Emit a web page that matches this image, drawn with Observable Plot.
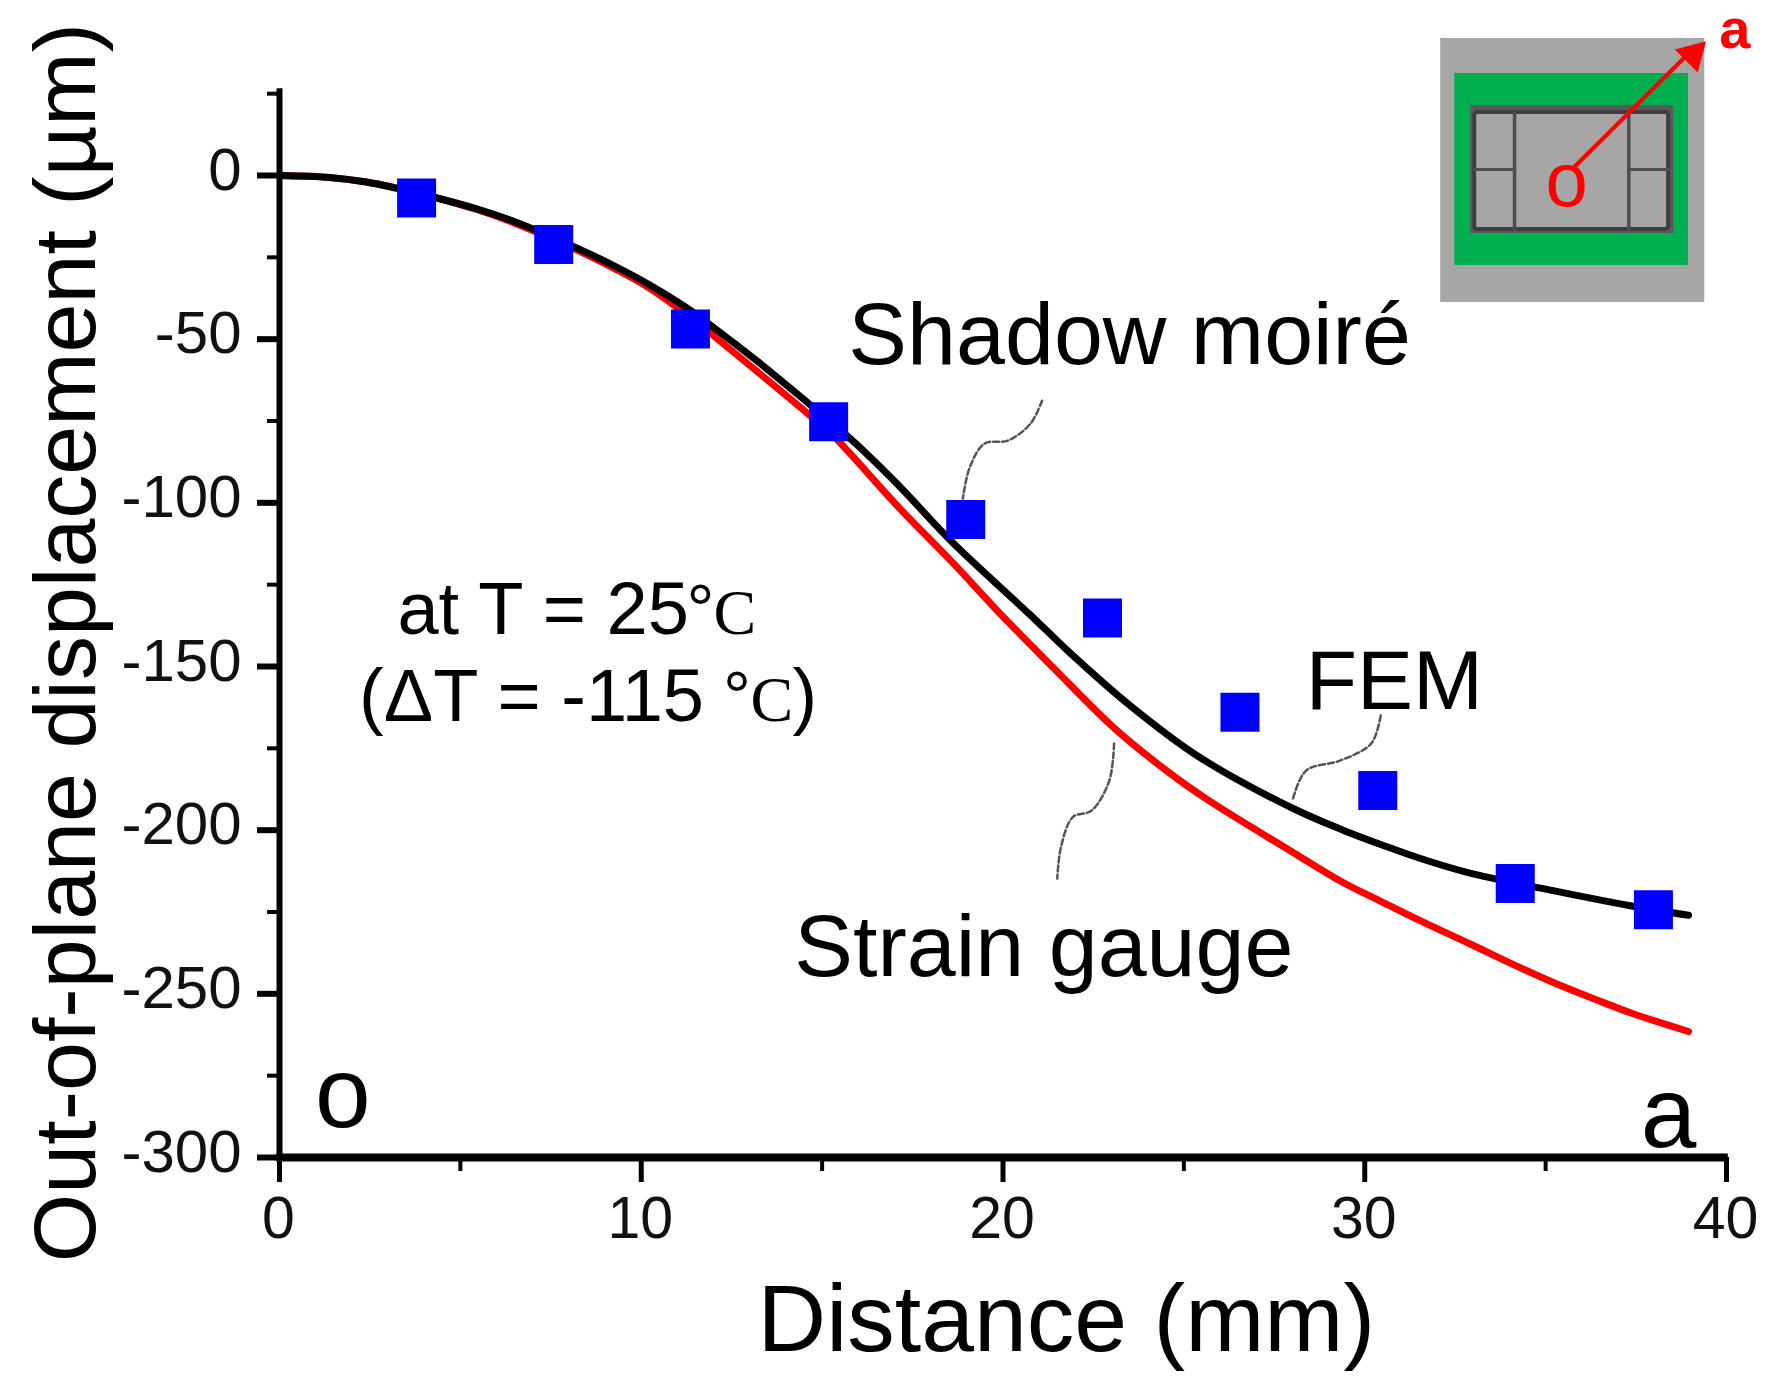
<!DOCTYPE html>
<html>
<head>
<meta charset="utf-8">
<style>
html,body{margin:0;padding:0;background:#fff;}
svg{display:block;}
</style>
<script src="https://cdn.jsdelivr.net/npm/d3@7"></script>
<script src="https://cdn.jsdelivr.net/npm/@observablehq/plot@0.6"></script>
</head>
<body>
<div id="chart"></div>
<script>
// Series values
const femX = [0,1.38,2.4,3.2,4.33,5.45,6.47,8.15,9.29,10.2,11.2,11.89,13.24,14.6,15.84,17.17,18.55,20.76,21.8,23.52,25.4,27.95,29.4,30.6,31.5,32.8,34.9,37.3,38.95];
const femY = [0,-0.6,-2,-3.8,-6.8,-10.2,-14,-21.8,-27.8,-33.2,-40,-45.5,-57,-69.4,-81,-95.3,-111.5,-134.3,-145.3,-162,-177.5,-193,-200,-205,-208.5,-212.8,-217.8,-223,-226];
const gaugeX = [0,1.38,2.4,3.2,4.33,5.45,6.47,8.15,9.29,10.2,11.2,11.89,13.24,14.6,15.26,17.17,18.55,20.02,21.4,23.09,24.6,25.63,27.75,29.4,30.4,31.5,32.9,34.1,35.1,36.4,37.4,38.95];
const gaugeY = [0,-0.6,-2,-3.8,-6.8,-10.4,-14.4,-22.4,-28.6,-34.2,-42,-48,-60.2,-72.7,-79,-102,-117.6,-135,-150.5,-169,-182.5,-190.5,-205,-216,-221.5,-227.5,-234.7,-241,-246,-251.8,-256,-261.5];
const moireX = [3.79,7.58,11.36,15.18,18.97,22.75,26.55,30.36,34.16,37.98];
const moireY = [-6.9,-21.1,-46.9,-75.2,-105.1,-135.2,-164,-187.9,-216.3,-224.3];

// Axis ticks
const xMajor = [0,10,20,30,40];
const xMinor = [5,15,25,35];
const yMajor = [0,-50,-100,-150,-200,-250,-300];
const yMinor = [25,-25,-75,-125,-175,-225,-275];

// Leader curves, in axis units
const leaderMoireX = [21.08,20.76,20.13,19.49,19.08,18.89];
const leaderMoireY = [-68.8,-75.8,-81,-81.9,-89.2,-98.7];
const leaderFemX = [30.44,30.18,29.33,28.38,28.0];
const leaderFemY = [-165,-173.5,-178.7,-181.8,-191];
const leaderGaugeX = [23.07,22.94,22.45,21.93,21.6,21.5];
const leaderGaugeY = [-173.5,-184.8,-194,-196,-205.3,-214.8];

const pts = (xs, ys) => xs.map((x, i) => ({x, y: ys[i]}));
const font = "'Liberation Sans', Arial, sans-serif";
const serif = "'Liberation Serif', 'Times New Roman', serif";
const label = (txt, x, y, fontSize, opts = {}) =>
  Plot.text([txt], {x: () => x, y: () => y, text: d => d, fontSize, lineAnchor: "bottom", fill: "#000", ...opts});
const box = (x1, x2, y1, y2, opts) => Plot.rect([0], {x1: () => x1, x2: () => x2, y1: () => y1, y2: () => y2, ...opts});
const seg = (xs, ys, opts) => Plot.line(pts(xs, ys), {x: "x", y: "y", ...opts});

const leader = {x: "x", y: "y", curve: "catmull-rom", stroke: "#555", strokeWidth: 2.5, strokeDasharray: "6,3"};

const chart = Plot.plot({
  width: 1782,
  height: 1388,
  marginLeft: 279,
  marginRight: 56,
  marginTop: 175,
  marginBottom: 231,
  style: {fontFamily: font, background: "#fff", color: "#000", overflow: "visible"},
  x: {domain: [0, 40], label: null},
  y: {domain: [-300, 0], label: null},
  marks: [
    // Inset sketch of the package
    box(32.1, 39.4, -38.8, 41.86, {fill: "#a6a6a6"}),
    box(32.49, 38.95, -27.5, 31.16, {fill: "#00b050"}),
    box(32.93, 38.54, -17.72, 21.39, {fill: "#595959"}),
    box(33.04, 38.4, -16.5, 19.25, {fill: "#a6a6a6", stroke: "#403c40", strokeWidth: 4, rx: 3}),
    seg([34.14, 34.14], [-16.5, 19.25], {stroke: "#504c50", strokeWidth: 3.5}),
    seg([37.3, 37.3], [-16.5, 19.25], {stroke: "#504c50", strokeWidth: 3.5}),
    seg([33.04, 34.14], [1.83, 1.83], {stroke: "#504c50", strokeWidth: 3}),
    seg([37.3, 38.4], [1.83, 1.83], {stroke: "#504c50", strokeWidth: 3}),
    seg([35.75, 39.0], [2.14, 37.8], {stroke: "#ff0000", strokeWidth: 4}),
    Plot.dot([0], {x: () => 39.07, y: () => 37.0, symbol: "triangle", r: 12, rotate: 45, fill: "#ff0000", stroke: "none"}),
    label("o", 35.58, -9.17, 76, {fill: "#ff0000"}),
    label("a", 40.23, 38.8, 56, {fill: "#ff0000", fontWeight: "bold"}),

    // Axes
    Plot.axisX({anchor: "bottom", ticks: xMajor, tickSize: 25, strokeWidth: 5, tickFormat: () => "", label: null, fontSize: 1}),
    Plot.axisX({anchor: "bottom", ticks: xMinor, tickSize: 14, strokeWidth: 4, tickFormat: () => "", label: null, fontSize: 1}),
    Plot.axisY({anchor: "left", ticks: yMajor, tickSize: 22, strokeWidth: 6, tickFormat: () => "", label: null, fontSize: 1}),
    Plot.axisY({anchor: "left", ticks: yMinor, tickSize: 12, strokeWidth: 4, tickFormat: () => "", label: null, fontSize: 1}),
    Plot.axisY({anchor: "left", ticks: yMajor, tickSize: 0, tickPadding: 38, dy: -5, fontSize: 60, fill: "#111", tickFormat: d => String(d), label: null}),
    Plot.axisX({anchor: "bottom", ticks: xMajor, tickSize: 0, tickPadding: 39, dx: -1, fontSize: 59, fill: "#111", tickFormat: d => String(d), label: null}),
    Plot.ruleX([0], {y1: -300, y2: 26.5, stroke: "#000", strokeWidth: 6}),
    Plot.ruleY([-300], {x1: -0.08, x2: 40.05, stroke: "#000", strokeWidth: 8}),

    // Curves
    Plot.line(pts(gaugeX, gaugeY), {x: "x", y: "y", stroke: "#ff0000", strokeWidth: 7, curve: "catmull-rom"}),
    Plot.line(pts(femX, femY), {x: "x", y: "y", stroke: "#000", strokeWidth: 7, curve: "catmull-rom"}),
    Plot.dot(pts(moireX, moireY), {x: "x", y: "y", symbol: "square", r: 22, fill: "#0000ff", stroke: "none"}),

    // Leaders
    Plot.line(pts(leaderMoireX, leaderMoireY), leader),
    Plot.line(pts(leaderFemX, leaderFemY), leader),
    Plot.line(pts(leaderGaugeX, leaderGaugeY), leader),

    // Annotations
    label("Shadow moiré", 23.5, -57.7, 88),
    label("FEM", 30.82, -162.9, 84),
    label("Strain gauge", 21.13, -244.4, 88),
    label("at T = 25", 3.26, -140, 74, {textAnchor: "start"}),
    label("°", 11.25, -140, 70, {textAnchor: "start"}),
    label("C", 12.0, -140, 64, {textAnchor: "start", fontFamily: serif}),
    label("(ΔT = -115", 2.2, -166.5, 74, {textAnchor: "start"}),
    label("°", 12.26, -166.5, 70, {textAnchor: "start"}),
    label("C", 13.02, -166.5, 64, {textAnchor: "start", fontFamily: serif}),
    label(")", 14.18, -166.5, 74, {textAnchor: "start"}),
    label("o", 1.75, -290.6, 100),
    label("a", 38.4, -296.7, 100),
    label("Distance (mm)", 21.75, -359, 95),
    label("Out-of-plane displacement (µm)", -5.09, -142.7, 88, {rotate: -90})
  ]
});
document.getElementById("chart").appendChild(chart);
</script>
</body>
</html>
